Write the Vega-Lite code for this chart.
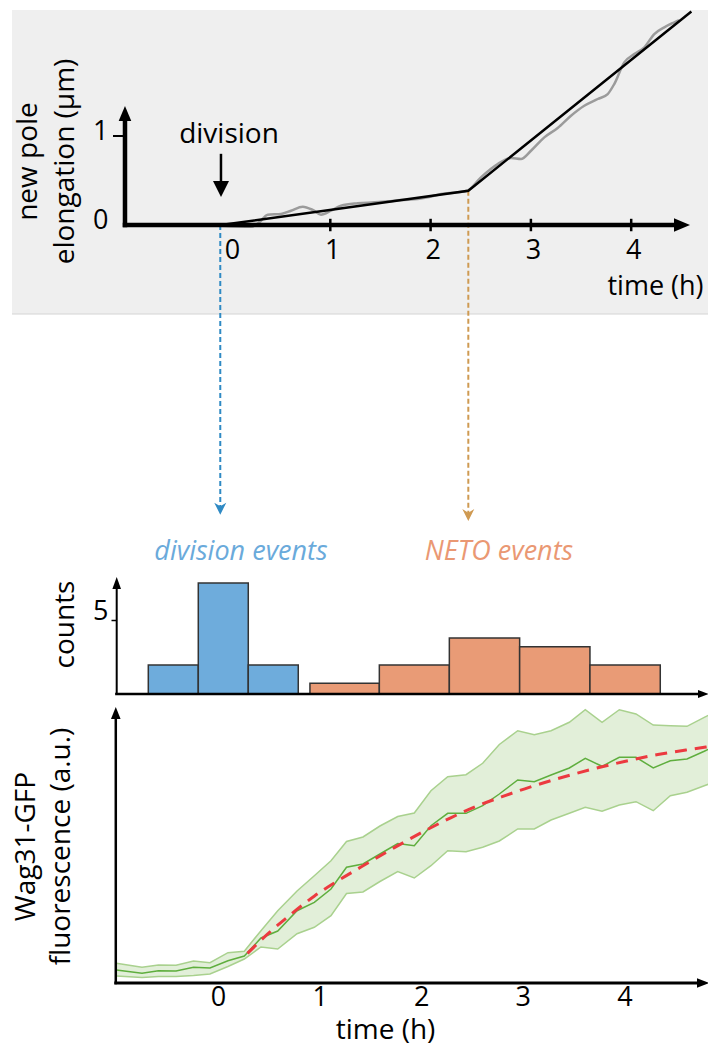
{
"$schema": "https://vega.github.io/schema/vega-lite/v6.json",
"padding": {"left": 11, "top": 6, "right": 0, "bottom": 4},
"autosize": {"type": "pad"},
"background": "white",
"bounds": "flush",
"spacing": 10,
"config": {
 "view": {"stroke": null},
 "font": "Open Sans",
 "axis": {"grid": false, "domain": false, "ticks": false, "tickSize": 0, "labelFont": "Open Sans", "titleFont": "Open Sans", "labelFontSize": 27, "titleFontSize": 28, "labelColor": "#000", "titleColor": "#000", "titleFontWeight": "normal", "labelFlush": false, "labelOverlap": false},
 "text": {"font": "Open Sans", "fontSize": 28}
},
"resolve": {"scale": {"x": "independent", "y": "independent", "color": "independent"}},
"datasets": {
 "elong": [
  {"t": -0.09, "v": -0.008}, {"t": 0.209, "v": -0.019}, {"t": 0.292, "v": 0.03}, {"t": 0.376, "v": 0.116}, {"t": 0.508, "v": 0.124}, {"t": 0.608, "v": 0.161}, {"t": 0.725, "v": 0.206}, {"t": 0.825, "v": 0.169}, {"t": 0.907, "v": 0.116}, {"t": 1.007, "v": 0.161}, {"t": 1.107, "v": 0.217}, {"t": 1.273, "v": 0.244}, {"t": 1.439, "v": 0.255}, {"t": 1.572, "v": 0.266}, {"t": 1.705, "v": 0.281}, {"t": 1.871, "v": 0.292}, {"t": 1.971, "v": 0.311}, {"t": 2.104, "v": 0.348}, {"t": 2.27, "v": 0.367}, {"t": 2.37, "v": 0.388}, {"t": 2.502, "v": 0.536}, {"t": 2.669, "v": 0.685}, {"t": 2.802, "v": 0.753}, {"t": 2.901, "v": 0.742}, {"t": 3.001, "v": 0.835}, {"t": 3.134, "v": 0.985}, {"t": 3.267, "v": 1.09}, {"t": 3.4, "v": 1.228}, {"t": 3.532, "v": 1.34}, {"t": 3.666, "v": 1.416}, {"t": 3.766, "v": 1.472}, {"t": 3.831, "v": 1.584}, {"t": 3.931, "v": 1.828}, {"t": 4.031, "v": 1.921}, {"t": 4.131, "v": 1.997}, {"t": 4.23, "v": 2.146}, {"t": 4.33, "v": 2.221}, {"t": 4.43, "v": 2.278}, {"t": 4.477, "v": 2.303}
 ],
 "fit": [{"t": -0.09, "v": 0}, {"t": 2.376, "v": 0.385}, {"t": 4.6, "v": 2.4}],
 "events": [{"event": "division", "t": -0.097, "elong": 0}, {"event": "NETO", "t": 2.376, "elong": 0.385}],
 "ticks": [{"t": 1}, {"t": 2}, {"t": 3}, {"t": 4}],
 "hist": [
  {"event": "division", "t0": -0.686, "t1": -0.194, "count": 1.95},
  {"event": "division", "t0": -0.194, "t1": 0.298, "count": 7.47},
  {"event": "division", "t0": 0.298, "t1": 0.79, "count": 1.95},
  {"event": "NETO", "t0": 0.905, "t1": 1.588, "count": 0.72},
  {"event": "NETO", "t0": 1.588, "t1": 2.277, "count": 1.95},
  {"event": "NETO", "t0": 2.277, "t1": 2.969, "count": 3.77},
  {"event": "NETO", "t0": 2.969, "t1": 3.661, "count": 3.18},
  {"event": "NETO", "t0": 3.661, "t1": 4.353, "count": 1.95}
 ],
 "fluor": [
  {"t": -1.0, "lo": 2.51, "mean": 4.66, "hi": 7.06},
  {"t": -0.748, "lo": 1.97, "mean": 3.51, "hi": 5.63},
  {"t": -0.586, "lo": 2.33, "mean": 4.41, "hi": 6.45},
  {"t": -0.413, "lo": 2.33, "mean": 4.3, "hi": 6.38},
  {"t": -0.241, "lo": 2.69, "mean": 5.63, "hi": 7.89},
  {"t": -0.079, "lo": 3.23, "mean": 5.38, "hi": 7.28},
  {"t": 0.098, "lo": 5.91, "mean": 7.99, "hi": 10.86},
  {"t": 0.259, "lo": 8.6, "mean": 9.68, "hi": 11.4},
  {"t": 0.423, "lo": 12.9, "mean": 16.13, "hi": 18.75},
  {"t": 0.588, "lo": 12.19, "mean": 18.64, "hi": 25.91},
  {"t": 0.778, "lo": 17.67, "mean": 25.91, "hi": 32.97},
  {"t": 0.948, "lo": 19.96, "mean": 28.92, "hi": 38.46},
  {"t": 1.112, "lo": 24.12, "mean": 33.69, "hi": 43.84},
  {"t": 1.265, "lo": 32.08, "mean": 41.47, "hi": 50.72},
  {"t": 1.427, "lo": 32.62, "mean": 42.65, "hi": 52.33},
  {"t": 1.594, "lo": 36.38, "mean": 46.24, "hi": 56.27},
  {"t": 1.769, "lo": 39.96, "mean": 50.0, "hi": 59.68},
  {"t": 1.932, "lo": 37.63, "mean": 49.21, "hi": 60.93},
  {"t": 2.096, "lo": 42.04, "mean": 56.38, "hi": 68.92},
  {"t": 2.261, "lo": 47.42, "mean": 60.82, "hi": 73.94},
  {"t": 2.441, "lo": 47.06, "mean": 60.82, "hi": 74.66},
  {"t": 2.605, "lo": 48.64, "mean": 63.55, "hi": 78.75},
  {"t": 2.769, "lo": 50.9, "mean": 67.74, "hi": 85.48},
  {"t": 2.95, "lo": 55.2, "mean": 72.76, "hi": 90.43},
  {"t": 3.113, "lo": 55.2, "mean": 72.15, "hi": 88.99},
  {"t": 3.278, "lo": 58.42, "mean": 74.55, "hi": 90.43},
  {"t": 3.458, "lo": 60.82, "mean": 77.06, "hi": 93.44},
  {"t": 3.615, "lo": 62.97, "mean": 80.54, "hi": 97.96},
  {"t": 3.78, "lo": 61.54, "mean": 77.67, "hi": 93.44},
  {"t": 3.95, "lo": 63.8, "mean": 80.9, "hi": 97.96},
  {"t": 4.114, "lo": 64.98, "mean": 80.9, "hi": 96.42},
  {"t": 4.284, "lo": 61.76, "mean": 77.06, "hi": 92.47},
  {"t": 4.452, "lo": 67.13, "mean": 79.68, "hi": 92.22},
  {"t": 4.616, "lo": 68.35, "mean": 80.29, "hi": 92.01},
  {"t": 4.786, "lo": 70.72, "mean": 83.05, "hi": 95.23},
  {"t": 4.833, "lo": 71.33, "mean": 83.87, "hi": 96.06}
 ],
 "fit3": [
  {"t": 0.29, "v": 10.6}, {"t": 0.49, "v": 17.6}, {"t": 0.72, "v": 24.7}, {"t": 0.95, "v": 31.2}, {"t": 1.21, "v": 37.3}, {"t": 1.47, "v": 42.9}, {"t": 1.74, "v": 48.6}, {"t": 2.06, "v": 55.0}, {"t": 2.29, "v": 59.2}, {"t": 2.54, "v": 63.3}, {"t": 2.79, "v": 66.7}, {"t": 3.02, "v": 69.6}, {"t": 3.34, "v": 73.2}, {"t": 3.67, "v": 76.5}, {"t": 4.0, "v": 79.4}, {"t": 4.33, "v": 81.9}, {"t": 4.66, "v": 83.8}, {"t": 4.83, "v": 84.7}
 ]
},
"vconcat": [
 {
  "width": 593, "height": 559,
  "layer": [
   {"data": {"values": [{}]}, "mark": {"type": "rect", "fill": "#efefef", "clip": false},
    "encoding": {
     "x": {"datum": -2.173, "type": "quantitative", "scale": {"domain": [-1.1366, 4.7757], "nice": false, "zero": false},
       "axis": {"values": [0, 1, 2, 3, 4], "format": "d", "zindex": 2, "offset": -344, "labelPadding": 12, "labelOffset": 2, "title": "time (h)", "titleFontSize": 27, "titleX": 539, "titleY": 69, "titleAlign": "center", "titleBaseline": "alphabetic", "titleAngle": 0}},
     "x2": {"datum": 4.7757},
     "y": {"datum": 2.416, "type": "quantitative", "scale": {"domain": [-3.865, 2.416], "nice": false, "zero": false},
       "axis": {"values": [0, 1], "format": "d", "zindex": 2, "labelPadding": 8, "labelOffset": -5, "labelBaseline": "middle", "title": ["new pole", "elongation (µm)"], "titleX": -80, "titleY": 151, "titleAngle": -90, "titleAlign": "center", "titleBaseline": "alphabetic", "titleLineHeight": 37.5}},
     "y2": {"datum": -1.0}
    }},
   {"data": {"values": [{}]}, "mark": {"type": "rule", "color": "#d4d4d4", "strokeWidth": 1, "clip": false},
    "encoding": {
     "x": {"datum": -2.173, "type": "quantitative", "scale": {"domain": [-1.1366, 4.7757], "nice": false, "zero": false}},
     "x2": {"datum": 4.7757},
     "y": {"datum": -1.0, "type": "quantitative", "scale": {"domain": [-3.865, 2.416], "nice": false, "zero": false}}
    }},
   {"data": {"name": "events"}, "transform": [{"filter": "datum.event === 'division'"}],
    "mark": {"type": "rule", "color": "#2f8ac4", "strokeWidth": 2, "strokeDash": [5, 3], "clip": false},
    "encoding": {
     "x": {"field": "t", "type": "quantitative", "scale": {"domain": [-1.1366, 4.7757], "nice": false, "zero": false}},
     "y": {"field": "elong", "type": "quantitative", "scale": {"domain": [-3.865, 2.416], "nice": false, "zero": false}},
     "y2": {"datum": -3.165}
    }},
   {"data": {"name": "events"}, "transform": [{"filter": "datum.event === 'division'"}],
    "mark": {"type": "point", "shape": "M0,0L-0.5,-1L0,-0.7L0.5,-1Z", "size": 576, "filled": true, "color": "#2f8ac4", "opacity": 1, "strokeWidth": 0, "clip": false},
    "encoding": {
     "x": {"field": "t", "type": "quantitative", "scale": {"domain": [-1.1366, 4.7757], "nice": false, "zero": false}},
     "y": {"datum": -3.255, "type": "quantitative", "scale": {"domain": [-3.865, 2.416], "nice": false, "zero": false}}
    }},
   {"data": {"name": "events"}, "transform": [{"filter": "datum.event === 'NETO'"}],
    "mark": {"type": "rule", "color": "#cf9a52", "strokeWidth": 2, "strokeDash": [5, 3], "clip": false},
    "encoding": {
     "x": {"field": "t", "type": "quantitative", "scale": {"domain": [-1.1366, 4.7757], "nice": false, "zero": false}},
     "y": {"field": "elong", "type": "quantitative", "scale": {"domain": [-3.865, 2.416], "nice": false, "zero": false}},
     "y2": {"datum": -3.236}
    }},
   {"data": {"name": "events"}, "transform": [{"filter": "datum.event === 'NETO'"}],
    "mark": {"type": "point", "shape": "M0,0L-0.5,-1L0,-0.7L0.5,-1Z", "size": 576, "filled": true, "color": "#cf9a52", "opacity": 1, "strokeWidth": 0, "clip": false},
    "encoding": {
     "x": {"field": "t", "type": "quantitative", "scale": {"domain": [-1.1366, 4.7757], "nice": false, "zero": false}},
     "y": {"datum": -3.326, "type": "quantitative", "scale": {"domain": [-3.865, 2.416], "nice": false, "zero": false}}
    }},
   {"data": {"name": "elong"}, "mark": {"type": "line", "color": "#9b9b9b", "strokeWidth": 2.5, "interpolate": "monotone", "clip": false},
    "encoding": {
     "x": {"field": "t", "type": "quantitative", "scale": {"domain": [-1.1366, 4.7757], "nice": false, "zero": false}},
     "y": {"field": "v", "type": "quantitative", "scale": {"domain": [-3.865, 2.416], "nice": false, "zero": false}}
    }},
   {"data": {"values": [{}]}, "mark": {"type": "rule", "color": "#000", "strokeWidth": 4.5, "strokeCap": "square", "clip": false},
    "encoding": {
     "x": {"datum": -1.047, "type": "quantitative", "scale": {"domain": [-1.1366, 4.7757], "nice": false, "zero": false}},
     "x2": {"datum": 4.467},
     "y": {"datum": 0, "type": "quantitative", "scale": {"domain": [-3.865, 2.416], "nice": false, "zero": false}}
    }},
   {"data": {"values": [{}]}, "mark": {"type": "rule", "color": "#000", "strokeWidth": 4.5, "strokeCap": "square", "clip": false},
    "encoding": {
     "x": {"datum": -1.047, "type": "quantitative", "scale": {"domain": [-1.1366, 4.7757], "nice": false, "zero": false}},
     "y": {"datum": 0, "type": "quantitative", "scale": {"domain": [-3.865, 2.416], "nice": false, "zero": false}},
     "y2": {"datum": 1.2}
    }},
   {"data": {"name": "ticks"}, "mark": {"type": "rule", "color": "#000", "strokeWidth": 2.5, "clip": false},
    "encoding": {
     "x": {"field": "t", "type": "quantitative", "scale": {"domain": [-1.1366, 4.7757], "nice": false, "zero": false}},
     "y": {"datum": 0.07, "type": "quantitative", "scale": {"domain": [-3.865, 2.416], "nice": false, "zero": false}},
     "y2": {"datum": -0.07}
    }},
   {"data": {"values": [{}]}, "mark": {"type": "rule", "color": "#000", "strokeWidth": 2, "clip": false},
    "encoding": {
     "x": {"datum": -1.1665, "type": "quantitative", "scale": {"domain": [-1.1366, 4.7757], "nice": false, "zero": false}},
     "x2": {"datum": -1.047},
     "y": {"datum": 1, "type": "quantitative", "scale": {"domain": [-3.865, 2.416], "nice": false, "zero": false}}
    }},
   {"data": {"values": [{}]}, "mark": {"type": "point", "shape": "M0,0L-1,-0.42L-1,0.42Z", "size": 1024, "filled": true, "color": "#000", "opacity": 1, "strokeWidth": 0, "clip": false},
    "encoding": {
     "x": {"datum": 4.586, "type": "quantitative", "scale": {"domain": [-1.1366, 4.7757], "nice": false, "zero": false}},
     "y": {"datum": 0, "type": "quantitative", "scale": {"domain": [-3.865, 2.416], "nice": false, "zero": false}}
    }},
   {"data": {"values": [{}]}, "mark": {"type": "point", "shape": "M0,0L-0.42,1L0.42,1Z", "size": 900, "filled": true, "color": "#000", "opacity": 1, "strokeWidth": 0, "clip": false},
    "encoding": {
     "x": {"datum": -1.047, "type": "quantitative", "scale": {"domain": [-1.1366, 4.7757], "nice": false, "zero": false}},
     "y": {"datum": 1.337, "type": "quantitative", "scale": {"domain": [-3.865, 2.416], "nice": false, "zero": false}}
    }},
   {"data": {"name": "fit"}, "mark": {"type": "line", "color": "#000", "strokeWidth": 2.5, "clip": false},
    "encoding": {
     "x": {"field": "t", "type": "quantitative", "scale": {"domain": [-1.1366, 4.7757], "nice": false, "zero": false}},
     "y": {"field": "v", "type": "quantitative", "scale": {"domain": [-3.865, 2.416], "nice": false, "zero": false}}
    }},
   {"data": {"values": [{}]}, "mark": {"type": "text", "text": "division", "fontSize": 28, "align": "center", "baseline": "alphabetic", "color": "#000", "clip": false},
    "encoding": {
     "x": {"datum": -0.01, "type": "quantitative", "scale": {"domain": [-1.1366, 4.7757], "nice": false, "zero": false}},
     "y": {"datum": 0.927, "type": "quantitative", "scale": {"domain": [-3.865, 2.416], "nice": false, "zero": false}}
    }},
   {"data": {"values": [{}]}, "mark": {"type": "rule", "color": "#000", "strokeWidth": 2.5, "clip": false},
    "encoding": {
     "x": {"datum": -0.09, "type": "quantitative", "scale": {"domain": [-1.1366, 4.7757], "nice": false, "zero": false}},
     "y": {"datum": 0.8, "type": "quantitative", "scale": {"domain": [-3.865, 2.416], "nice": false, "zero": false}},
     "y2": {"datum": 0.45}
    }},
   {"data": {"values": [{}]}, "mark": {"type": "point", "shape": "M0,0L-0.5,-1L0.5,-1Z", "size": 1024, "filled": true, "color": "#000", "opacity": 1, "strokeWidth": 0, "clip": false},
    "encoding": {
     "x": {"datum": -0.09, "type": "quantitative", "scale": {"domain": [-1.1366, 4.7757], "nice": false, "zero": false}},
     "y": {"datum": 0.315, "type": "quantitative", "scale": {"domain": [-3.865, 2.416], "nice": false, "zero": false}}
    }}
  ]
 },
 {
  "width": 593, "height": 115,
  "layer": [
   {"data": {"name": "hist"}, "mark": {"type": "rect", "stroke": "#333333", "strokeWidth": 1.5, "clip": false},
    "encoding": {
     "x": {"field": "t0", "type": "quantitative", "scale": {"domain": [-1.0039, 4.8327], "nice": false, "zero": false}, "axis": {"labels": false, "title": null}},
     "x2": {"field": "t1"},
     "y": {"field": "count", "type": "quantitative", "scale": {"domain": [0, 7.739], "nice": false, "zero": false},
       "axis": {"values": [5], "format": "d", "zindex": 2, "ticks": true, "tickSize": 5, "tickWidth": 1.5, "tickColor": "#000", "labelPadding": 3, "labelBaseline": "alphabetic", "title": "counts", "titleX": -43, "titleY": 45, "titleAngle": -90, "titleAlign": "center", "titleBaseline": "alphabetic"}},
     "y2": {"datum": 0},
     "color": {"field": "event", "type": "nominal", "scale": {"domain": ["division", "NETO"], "range": ["#6eacdc", "#e99b76"]}, "legend": null}
    }},
   {"data": {"values": [{}]}, "mark": {"type": "rule", "color": "#000", "strokeWidth": 2.5, "strokeCap": "square", "clip": false},
    "encoding": {
     "x": {"datum": -1.0, "type": "quantitative", "scale": {"domain": [-1.0039, 4.8327], "nice": false, "zero": false}},
     "x2": {"datum": 4.734},
     "y": {"datum": 0, "type": "quantitative", "scale": {"domain": [0, 7.739], "nice": false, "zero": false}}
    }},
   {"data": {"values": [{}]}, "mark": {"type": "rule", "color": "#000", "strokeWidth": 2, "clip": false},
    "encoding": {
     "x": {"datum": -0.997, "type": "quantitative", "scale": {"domain": [-1.0039, 4.8327], "nice": false, "zero": false}},
     "y": {"datum": 0, "type": "quantitative", "scale": {"domain": [0, 7.739], "nice": false, "zero": false}},
     "y2": {"datum": 7.2}
    }},
   {"data": {"values": [{}]}, "mark": {"type": "point", "shape": "M0,0L-1,-0.36L-1,0.36Z", "size": 484, "filled": true, "color": "#000", "opacity": 1, "strokeWidth": 0, "clip": false},
    "encoding": {
     "x": {"datum": 4.8327, "type": "quantitative", "scale": {"domain": [-1.0039, 4.8327], "nice": false, "zero": false}},
     "y": {"datum": 0, "type": "quantitative", "scale": {"domain": [0, 7.739], "nice": false, "zero": false}}
    }},
   {"data": {"values": [{}]}, "mark": {"type": "point", "shape": "M0,0L-0.36,1L0.36,1Z", "size": 576, "filled": true, "color": "#000", "opacity": 1, "strokeWidth": 0, "clip": false},
    "encoding": {
     "x": {"datum": -0.997, "type": "quantitative", "scale": {"domain": [-1.0039, 4.8327], "nice": false, "zero": false}},
     "y": {"datum": 7.874, "type": "quantitative", "scale": {"domain": [0, 7.739], "nice": false, "zero": false}}
    }},
   {"data": {"values": [{}]}, "mark": {"type": "text", "text": "division events", "fontSize": 27, "fontStyle": "italic", "align": "center", "baseline": "alphabetic", "color": "#6aaadb", "clip": false},
    "encoding": {
     "x": {"datum": 0.226, "type": "quantitative", "scale": {"domain": [-1.0039, 4.8327], "nice": false, "zero": false}},
     "y": {"datum": 9.05, "type": "quantitative", "scale": {"domain": [0, 7.739], "nice": false, "zero": false}}
    }},
   {"data": {"values": [{}]}, "mark": {"type": "text", "text": "NETO events", "fontSize": 27, "fontStyle": "italic", "align": "center", "baseline": "alphabetic", "color": "#ea9873", "clip": false},
    "encoding": {
     "x": {"datum": 2.766, "type": "quantitative", "scale": {"domain": [-1.0039, 4.8327], "nice": false, "zero": false}},
     "y": {"datum": 9.05, "type": "quantitative", "scale": {"domain": [0, 7.739], "nice": false, "zero": false}}
    }}
  ]
 },
 {
  "width": 593, "height": 279,
  "layer": [
   {"data": {"name": "fluor"}, "mark": {"type": "area", "color": "#e2efd9", "opacity": 1, "clip": false},
    "encoding": {
     "x": {"field": "t", "type": "quantitative", "scale": {"domain": [-1.0039, 4.8327], "nice": false, "zero": false},
       "axis": {"values": [0, 1, 2, 3, 4], "format": "d", "zindex": 2, "labelPadding": 1, "title": "time (h)", "titleX": 269, "titleY": 55, "titleAlign": "center", "titleBaseline": "alphabetic", "titleAngle": 0}},
     "y": {"field": "lo", "type": "quantitative", "scale": {"domain": [0, 100], "nice": false, "zero": false},
       "axis": {"labels": false, "zindex": 2, "title": ["Wag31-GFP", "fluorescence (a.u.)"], "titleX": -82, "titleY": 142, "titleAngle": -90, "titleAlign": "center", "titleBaseline": "alphabetic", "titleLineHeight": 35.5}},
     "y2": {"field": "hi"}
    }},
   {"data": {"name": "fluor"}, "mark": {"type": "line", "color": "#a9d18e", "strokeWidth": 1.5, "clip": false},
    "encoding": {
     "x": {"field": "t", "type": "quantitative", "scale": {"domain": [-1.0039, 4.8327], "nice": false, "zero": false}},
     "y": {"field": "hi", "type": "quantitative", "scale": {"domain": [0, 100], "nice": false, "zero": false}}
    }},
   {"data": {"name": "fluor"}, "mark": {"type": "line", "color": "#a9d18e", "strokeWidth": 1.5, "clip": false},
    "encoding": {
     "x": {"field": "t", "type": "quantitative", "scale": {"domain": [-1.0039, 4.8327], "nice": false, "zero": false}},
     "y": {"field": "lo", "type": "quantitative", "scale": {"domain": [0, 100], "nice": false, "zero": false}}
    }},
   {"data": {"name": "fluor"}, "mark": {"type": "line", "color": "#5fae3e", "strokeWidth": 1.5, "clip": false},
    "encoding": {
     "x": {"field": "t", "type": "quantitative", "scale": {"domain": [-1.0039, 4.8327], "nice": false, "zero": false}},
     "y": {"field": "mean", "type": "quantitative", "scale": {"domain": [0, 100], "nice": false, "zero": false}}
    }},
   {"data": {"name": "fit3"}, "mark": {"type": "line", "color": "#ec3a40", "strokeWidth": 3, "strokeDash": [12, 8], "interpolate": "monotone", "clip": false},
    "encoding": {
     "x": {"field": "t", "type": "quantitative", "scale": {"domain": [-1.0039, 4.8327], "nice": false, "zero": false}},
     "y": {"field": "v", "type": "quantitative", "scale": {"domain": [0, 100], "nice": false, "zero": false}}
    }},
   {"data": {"values": [{}]}, "mark": {"type": "rule", "color": "#000", "strokeWidth": 3, "strokeCap": "square", "clip": false},
    "encoding": {
     "x": {"datum": -1.006, "type": "quantitative", "scale": {"domain": [-1.0039, 4.8327], "nice": false, "zero": false}},
     "x2": {"datum": 4.714},
     "y": {"datum": 0, "type": "quantitative", "scale": {"domain": [0, 100], "nice": false, "zero": false}}
    }},
   {"data": {"values": [{}]}, "mark": {"type": "rule", "color": "#000", "strokeWidth": 2.5, "strokeCap": "square", "clip": false},
    "encoding": {
     "x": {"datum": -1.006, "type": "quantitative", "scale": {"domain": [-1.0039, 4.8327], "nice": false, "zero": false}},
     "y": {"datum": 0, "type": "quantitative", "scale": {"domain": [0, 100], "nice": false, "zero": false}},
     "y2": {"datum": 95}
    }},
   {"data": {"values": [{}]}, "mark": {"type": "point", "shape": "M0,0L-1,-0.4L-1,0.4Z", "size": 576, "filled": true, "color": "#000", "opacity": 1, "strokeWidth": 0, "clip": false},
    "encoding": {
     "x": {"datum": 4.8327, "type": "quantitative", "scale": {"domain": [-1.0039, 4.8327], "nice": false, "zero": false}},
     "y": {"datum": 0, "type": "quantitative", "scale": {"domain": [0, 100], "nice": false, "zero": false}}
    }},
   {"data": {"values": [{}]}, "mark": {"type": "point", "shape": "M0,0L-0.4,1L0.4,1Z", "size": 576, "filled": true, "color": "#000", "opacity": 1, "strokeWidth": 0, "clip": false},
    "encoding": {
     "x": {"datum": -1.006, "type": "quantitative", "scale": {"domain": [-1.0039, 4.8327], "nice": false, "zero": false}},
     "y": {"datum": 98.9, "type": "quantitative", "scale": {"domain": [0, 100], "nice": false, "zero": false}}
    }}
  ]
 }
]
}
